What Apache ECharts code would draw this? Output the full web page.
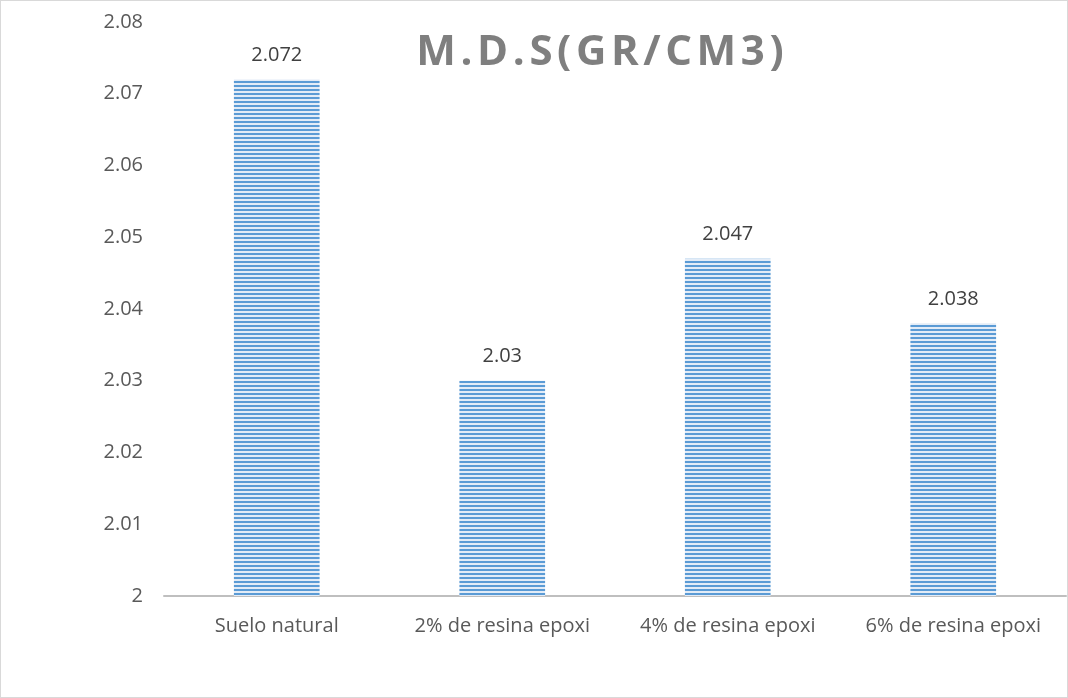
<!DOCTYPE html>
<html>
<head>
<meta charset="utf-8">
<script src="https://cdn.jsdelivr.net/npm/echarts@6/dist/echarts.min.js"></script>
<style>
  html, body { margin: 0; padding: 0; background: #fff; }
  #chart { width: 1068px; height: 698px; box-sizing: border-box; border: 1px solid #d9d9d9; margin: 0; }
</style>
</head>
<body>
<div id="chart"></div>
<script>
const categories = ['Suelo natural', '2% de resina epoxi', '4% de resina epoxi', '6% de resina epoxi'];
const mdsValues = [2.072, 2.03, 2.047, 2.038];
const chartTitle = 'M.D.S(GR/CM3)';

// horizontal stripe fill for the bars
function stripePattern() {
  const c = document.createElement('canvas');
  c.width = 8; c.height = 4;
  const g = c.getContext('2d');
  g.fillStyle = '#e3ecf7';
  g.fillRect(0, 0, 8, 4);
  g.fillStyle = '#5b9bd5';
  g.fillRect(0, 0, 8, 2);
  return c;
}

// spaced-out title: every character gets its own padded rich segment
function spacedTitle(text) {
  return text.split('').map(ch => '{s|' + ch + '}').join('');
}

const chart = echarts.init(document.getElementById('chart'));
const font = '"Open Sans", sans-serif';
chart.setOption({
  animation: false,
  title: {
    text: spacedTitle(chartTitle),
    left: 594, top: 26, textAlign: 'center',
    textStyle: {
      rich: {
        s: { fontFamily: font, fontWeight: 'bold', fontSize: 42, color: '#7f7f7f', padding: [0, 2.3, 0, 2.3] }
      }
    }
  },
  grid: { left: 163, right: 1, top: 21, bottom: 101 },
  xAxis: {
    type: 'category',
    data: categories,
    axisTick: { show: false },
    axisLine: { lineStyle: { color: '#bfbfbf', width: 2 } },
    axisLabel: { color: '#595959', fontSize: 20, fontFamily: font, margin: 20, interval: 0 }
  },
  yAxis: {
    type: 'value',
    min: 2, max: 2.08, interval: 0.01,
    splitLine: { show: false },
    axisLine: { show: false },
    axisTick: { show: false },
    axisLabel: {
      color: '#595959', fontSize: 20, fontFamily: font, margin: 21,
      formatter: v => String(parseFloat(v.toFixed(2)))
    }
  },
  series: [{
    type: 'bar',
    data: mdsValues,
    barWidth: '38%',
    itemStyle: { color: { image: stripePattern(), repeat: 'repeat' } },
    label: {
      show: true, position: 'top', distance: 14,
      color: '#404040', fontSize: 20, fontFamily: font,
      formatter: p => String(p.value)
    }
  }]
});
</script>
</body>
</html>
